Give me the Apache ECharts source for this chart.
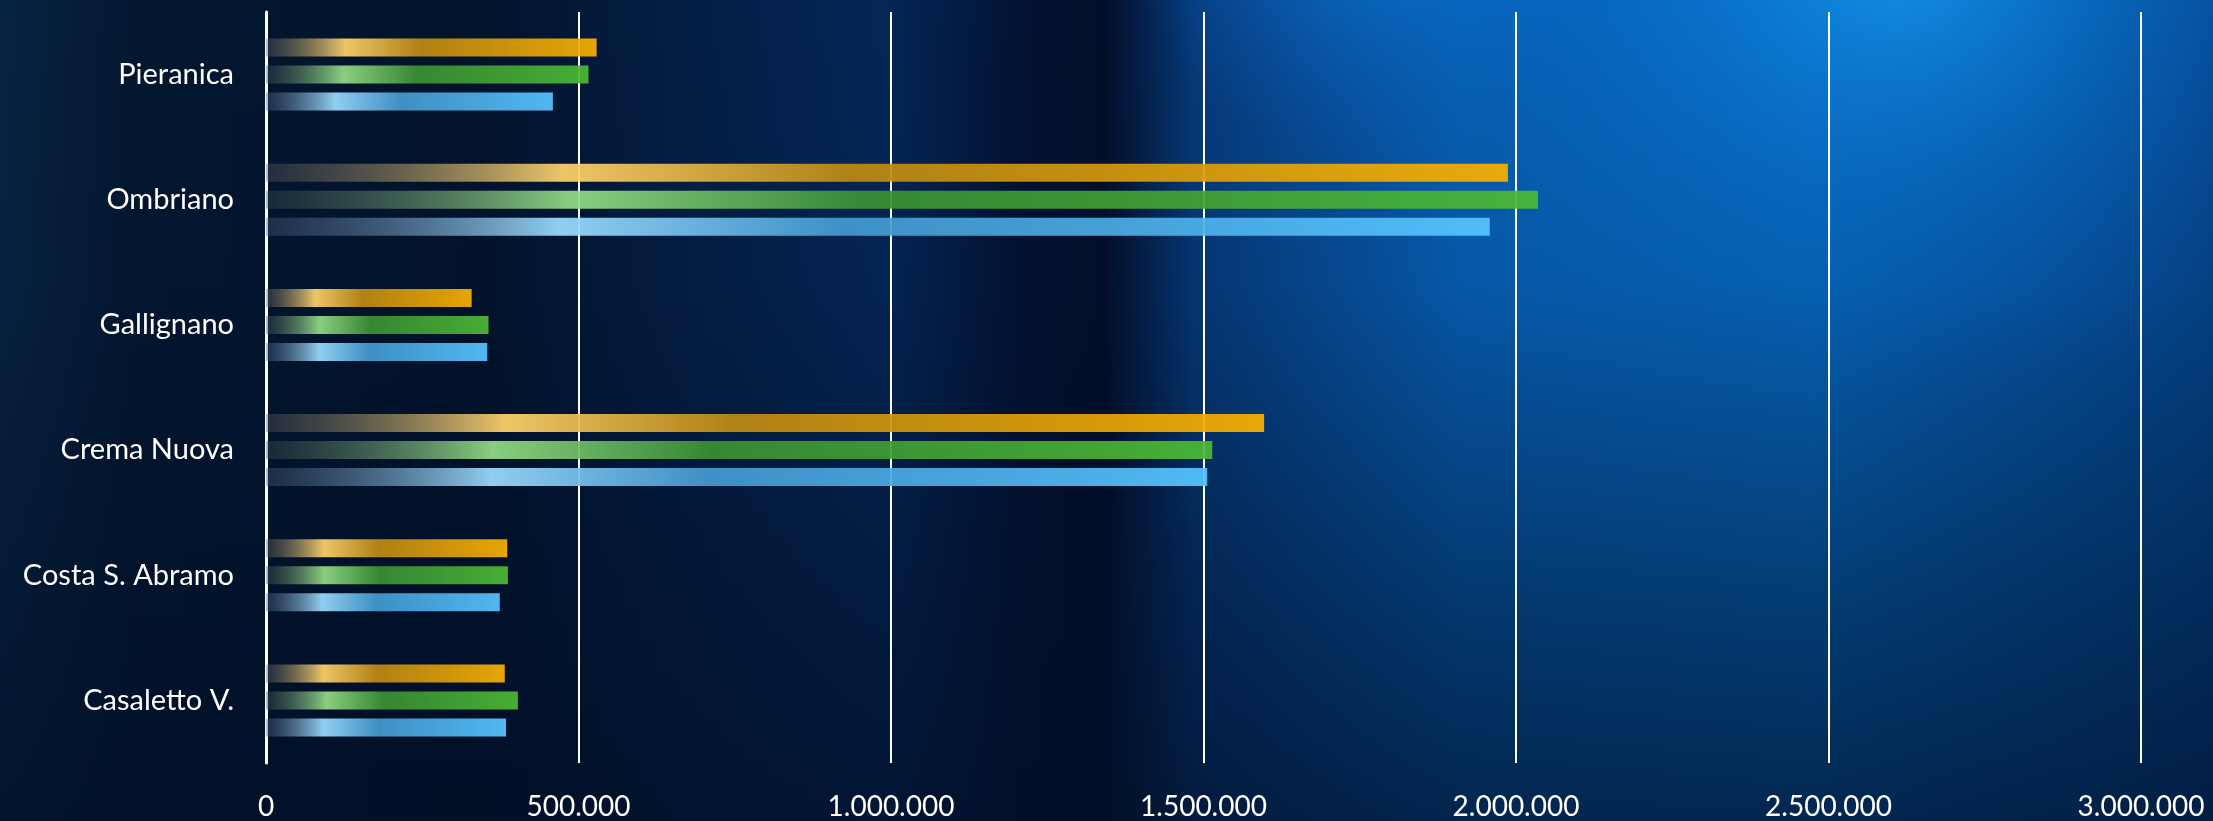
<!DOCTYPE html>
<html>
<head>
<meta charset="utf-8">
<script src="https://cdn.jsdelivr.net/npm/echarts@6/dist/echarts.min.js"></script>
<style>
html,body{margin:0;padding:0;background:#021530;}
#chart{width:2213px;height:821px;}
</style>
</head>
<body>
<div id="chart"></div>
<script>
// Data (categories listed bottom to top)
const categories = ["Casaletto V.", "Costa S. Abramo", "Crema Nuova", "Gallignano", "Ombriano", "Pieranica"];
const seriesOrange = [382000, 386000, 1597000, 329000, 1987000, 529000];
const seriesGreen  = [403000, 387000, 1514000, 356000, 2035000, 516000];
const seriesBlue   = [384000, 374000, 1506000, 354000, 1958000, 459000];
const xTicks = [0, 500000, 1000000, 1500000, 2000000, 2500000, 3000000];

function barGrad(c0, c1, c2, c3) {
  return {
    type: 'linear', x: 0, y: 0, x2: 1, y2: 0,
    colorStops: [
      {offset: 0, color: c0},
      {offset: 0.24, color: c1},
      {offset: 0.47, color: c2},
      {offset: 1, color: c3}
    ]
  };
}

const chart = echarts.init(document.getElementById('chart'), null, {renderer: 'canvas'});
const W = 2213, H = 821;

const option = {
  backgroundColor: '#021530',
  animation: false,
  graphic: [
    {
      type: 'rect', z: -30, silent: true,
      shape: {x: 0, y: 0, width: W, height: H},
      style: {fill: {type: 'linear', x: 0, y: 0, x2: 1, y2: 0, colorStops: [
        {offset: 0, color: '#072443'},
        {offset: 0.06, color: '#031731'},
        {offset: 0.22, color: '#02132c'},
        {offset: 0.3, color: '#031d42'},
        {offset: 0.4, color: '#042757'},
        {offset: 0.46, color: '#021233'},
        {offset: 0.5, color: '#020f2a'},
        {offset: 0.54, color: '#063a7a'},
        {offset: 0.66, color: '#0660b4'},
        {offset: 0.82, color: '#0668bd'},
        {offset: 1, color: '#04468c'}
      ]}}
    },
    {
      type: 'rect', z: -29, silent: true,
      shape: {x: 0, y: 0, width: W, height: H},
      style: {fill: {type: 'radial', x: 0.86, y: -0.05, r: 0.55, colorStops: [
        {offset: 0, color: 'rgba(20,150,235,0.85)'},
        {offset: 0.5, color: 'rgba(10,120,215,0.45)'},
        {offset: 1, color: 'rgba(10,100,200,0)'}
      ]}}
    },
    {
      type: 'rect', z: -29, silent: true,
      shape: {x: 0, y: 0, width: W, height: H},
      style: {fill: {type: 'radial', x: 0.62, y: -0.1, r: 0.3, colorStops: [
        {offset: 0, color: 'rgba(15,130,225,0.6)'},
        {offset: 1, color: 'rgba(10,100,200,0)'}
      ]}}
    },
    {
      type: 'rect', z: -28, silent: true,
      shape: {x: 0, y: 0, width: W, height: H},
      style: {fill: {type: 'linear', x: 0, y: 0, x2: 0, y2: 1, colorStops: [
        {offset: 0, color: 'rgba(1,12,35,0)'},
        {offset: 0.35, color: 'rgba(1,12,35,0.1)'},
        {offset: 0.75, color: 'rgba(1,14,38,0.5)'},
        {offset: 1, color: 'rgba(1,14,38,0.72)'}
      ]}}
    }
  ],
  grid: {left: 266, right: 72, top: 12, bottom: 57, containLabel: false},
  xAxis: {
    type: 'value',
    min: 0, max: 3000000, interval: 500000,
    axisLine: {show: false},
    axisTick: {show: false},
    splitLine: {show: true, lineStyle: {color: '#ffffff', width: 2}},
    axisLabel: {
      color: '#ffffff', fontFamily: 'Lato', fontSize: 28, margin: 30,
      formatter: function (v) { return String(v).replace(/\B(?=(\d{3})+(?!\d))/g, '.'); }
    }
  },
  yAxis: {
    type: 'category',
    data: categories,
    axisLine: {show: true, lineStyle: {color: '#ffffff', width: 3}},
    axisTick: {show: false},
    splitLine: {show: false},
    axisLabel: {color: '#ffffff', fontFamily: 'Lato', fontSize: 29, margin: 32}
  },
  series: [
    {
      name: 'Arancio', type: 'bar', data: seriesOrange, barWidth: 18, barGap: '50%',
      itemStyle: {opacity: 0.93, color: barGrad('rgba(90,90,90,0.4)', '#ffd36b', '#bd8912', '#f8b000')}
    },
    {
      name: 'Verde', type: 'bar', data: seriesGreen, barWidth: 18, barGap: '50%',
      itemStyle: {opacity: 0.93, color: barGrad('rgba(60,80,80,0.4)', '#93dc86', '#3a8f33', '#4cb935')}
    },
    {
      name: 'Blu', type: 'bar', data: seriesBlue, barWidth: 18, barGap: '50%',
      itemStyle: {opacity: 0.93, color: barGrad('rgba(70,90,120,0.4)', '#9bdcff', '#4399cf', '#56c4ff')}
    }
  ]
};
chart.setOption(option);
</script>
</body>
</html>
